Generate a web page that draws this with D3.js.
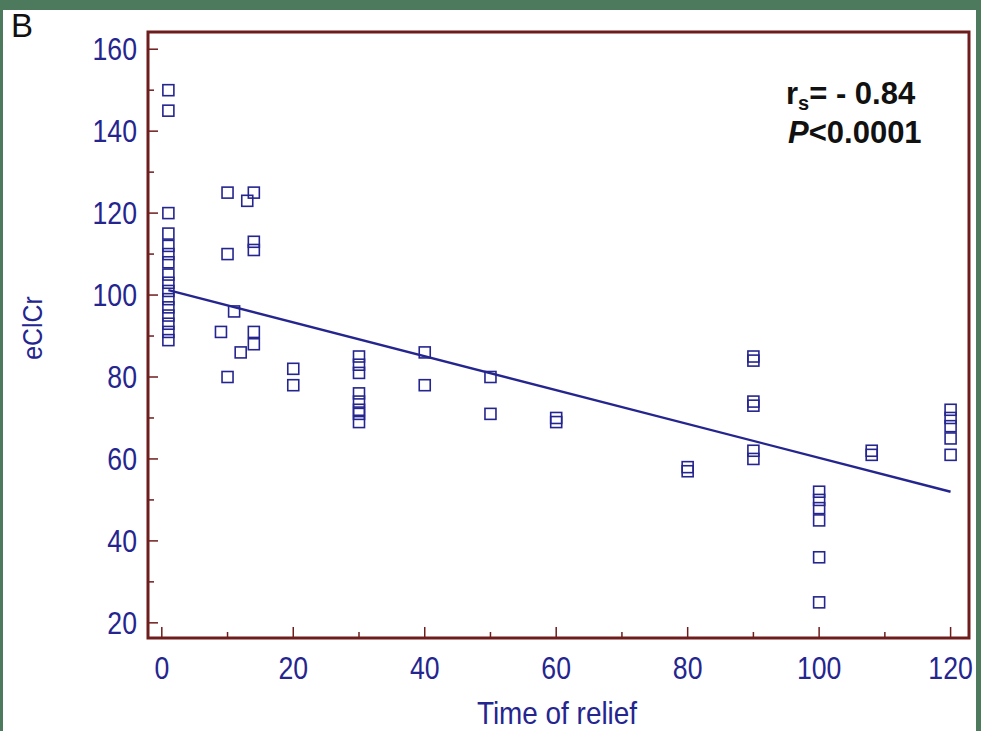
<!DOCTYPE html>
<html>
<head>
<meta charset="utf-8">
<script src="https://cdn.jsdelivr.net/npm/d3@7"></script>
<style>
  body { margin: 0; background: #4d7a5c; }
  svg { display: block; }
</style>
</head>
<body>
<svg width="981" height="731"></svg>
<script>
// time of relief (x) and eClCr (y) for each patient
var timeX = [1,1,1,1,1,1,1,1,1,1,1,1,1,1,1,1,
             9,10,10,10,11,12,13,14,14,14,14,14,
             20,20,30,30,30,30,30,30,30,30,
             40,40,50,50,60,60,80,80,
             90,90,90,90,90,90,
             100,100,100,100,100,100,
             108,108,120,120,120,120,120];
var eclcr = [150,145,120,115,112,110,108,105,103,101,99,97,95,93,91,89,
             91,125,110,80,96,86,123,125,113,111,91,88,
             82,78,85,83,81,76,74,72,71,69,
             86,78,80,71,70,69,58,57,
             85,84,74,73,62,60,
             52,50,48,45,36,25,
             62,61,72,70,68,65,61];
// fitted regression line ends
var fitX = [1, 120];
var fitY = [101.2, 52.0];

var xTicks = [0, 20, 40, 60, 80, 100, 120];
var yTicks = [20, 40, 60, 80, 100, 120, 140, 160];

var svg = d3.select("svg");
var navy = "#25258f", frame = "#6e1c1c";
var font = "Liberation Sans, Arial, sans-serif";

// white panel inside the green border
svg.append("rect").attr("x", 3).attr("y", 10).attr("width", 973).attr("height", 721).attr("fill", "#ffffff");

var pL = 148, pR = 969, pT = 32, pB = 638;
var x = d3.scaleLinear().domain([-2.1, 122.8]).range([pL, pR]);
var y = d3.scaleLinear().domain([16.3, 164.2]).range([pB, pT]);

// inward ticks, major every 20, minor every 10
var g = svg.append("g");
g.selectAll(".ytk").data(d3.range(20, 161, 10)).enter().append("line")
  .attr("x1", pL).attr("x2", function(d) { return pL + (d % 20 === 0 ? 10 : 6); })
  .attr("y1", function(d) { return y(d); }).attr("y2", function(d) { return y(d); })
  .attr("stroke", frame).attr("stroke-width", 1.5);
g.selectAll(".xtk").data(d3.range(0, 121, 10)).enter().append("line")
  .attr("y1", pB).attr("y2", function(d) { return pB - (d % 20 === 0 ? 11 : 6); })
  .attr("x1", function(d) { return x(d); }).attr("x2", function(d) { return x(d); })
  .attr("stroke", frame).attr("stroke-width", 1.5);

// tick labels: a little narrow, like the original
g.selectAll(".ylab").data(yTicks).enter().append("text")
  .attr("transform", function(d) { return "translate(" + (pL - 11) + "," + y(d) + ") scale(0.86,1)"; })
  .attr("dy", "0.36em")
  .attr("text-anchor", "end").attr("fill", navy)
  .attr("font-family", font).attr("font-size", 31)
  .text(function(d) { return d; });
g.selectAll(".xlab").data(xTicks).enter().append("text")
  .attr("transform", function(d) { return "translate(" + x(d) + "," + (pB + 41) + ") scale(0.86,1)"; })
  .attr("text-anchor", "middle").attr("fill", navy)
  .attr("font-family", font).attr("font-size", 31)
  .text(function(d) { return d; });

// frame
svg.append("rect").attr("x", pL).attr("y", pT).attr("width", pR - pL).attr("height", pB - pT)
  .attr("fill", "none").attr("stroke", frame).attr("stroke-width", 3);

// regression line
svg.append("line")
  .attr("x1", x(fitX[0])).attr("y1", y(fitY[0]))
  .attr("x2", x(fitX[1])).attr("y2", y(fitY[1]))
  .attr("stroke", navy).attr("stroke-width", 2.4);

// points
var pts = d3.zip(timeX, eclcr);
svg.selectAll(".pt").data(pts).enter().append("rect")
  .attr("x", function(d) { return x(d[0]) - 5.5; }).attr("y", function(d) { return y(d[1]) - 5.5; })
  .attr("width", 11).attr("height", 11)
  .attr("fill", "none").attr("stroke", navy).attr("stroke-width", 1.6);

// axis titles
svg.append("text").attr("transform", "translate(557,724) scale(0.9,1)").attr("text-anchor", "middle")
  .attr("fill", navy).attr("font-family", font).attr("font-size", 31)
  .text("Time of relief");
svg.append("text").attr("transform", "translate(42,328) rotate(-90) scale(0.92,1)").attr("text-anchor", "middle")
  .attr("fill", navy).attr("font-family", font).attr("font-size", 27)
  .text("eClCr");

// panel letter
svg.append("text").attr("x", 11).attr("y", 37).attr("fill", "#111")
  .attr("font-family", font).attr("font-size", 33)
  .text("B");

// statistics
var st = svg.append("text").attr("x", 786).attr("y", 104).attr("fill", "#111")
  .attr("font-family", font).attr("font-size", 31).attr("font-weight", "bold");
st.append("tspan").text("r");
st.append("tspan").attr("font-size", 20).attr("dy", 6).text("s");
st.append("tspan").attr("dy", -6).text("= - 0.84");
var st2 = svg.append("text").attr("x", 788).attr("y", 143).attr("fill", "#111")
  .attr("font-family", font).attr("font-size", 31).attr("font-weight", "bold");
st2.append("tspan").attr("font-style", "italic").text("P");
st2.append("tspan").text("<0.0001");
</script>
</body>
</html>
